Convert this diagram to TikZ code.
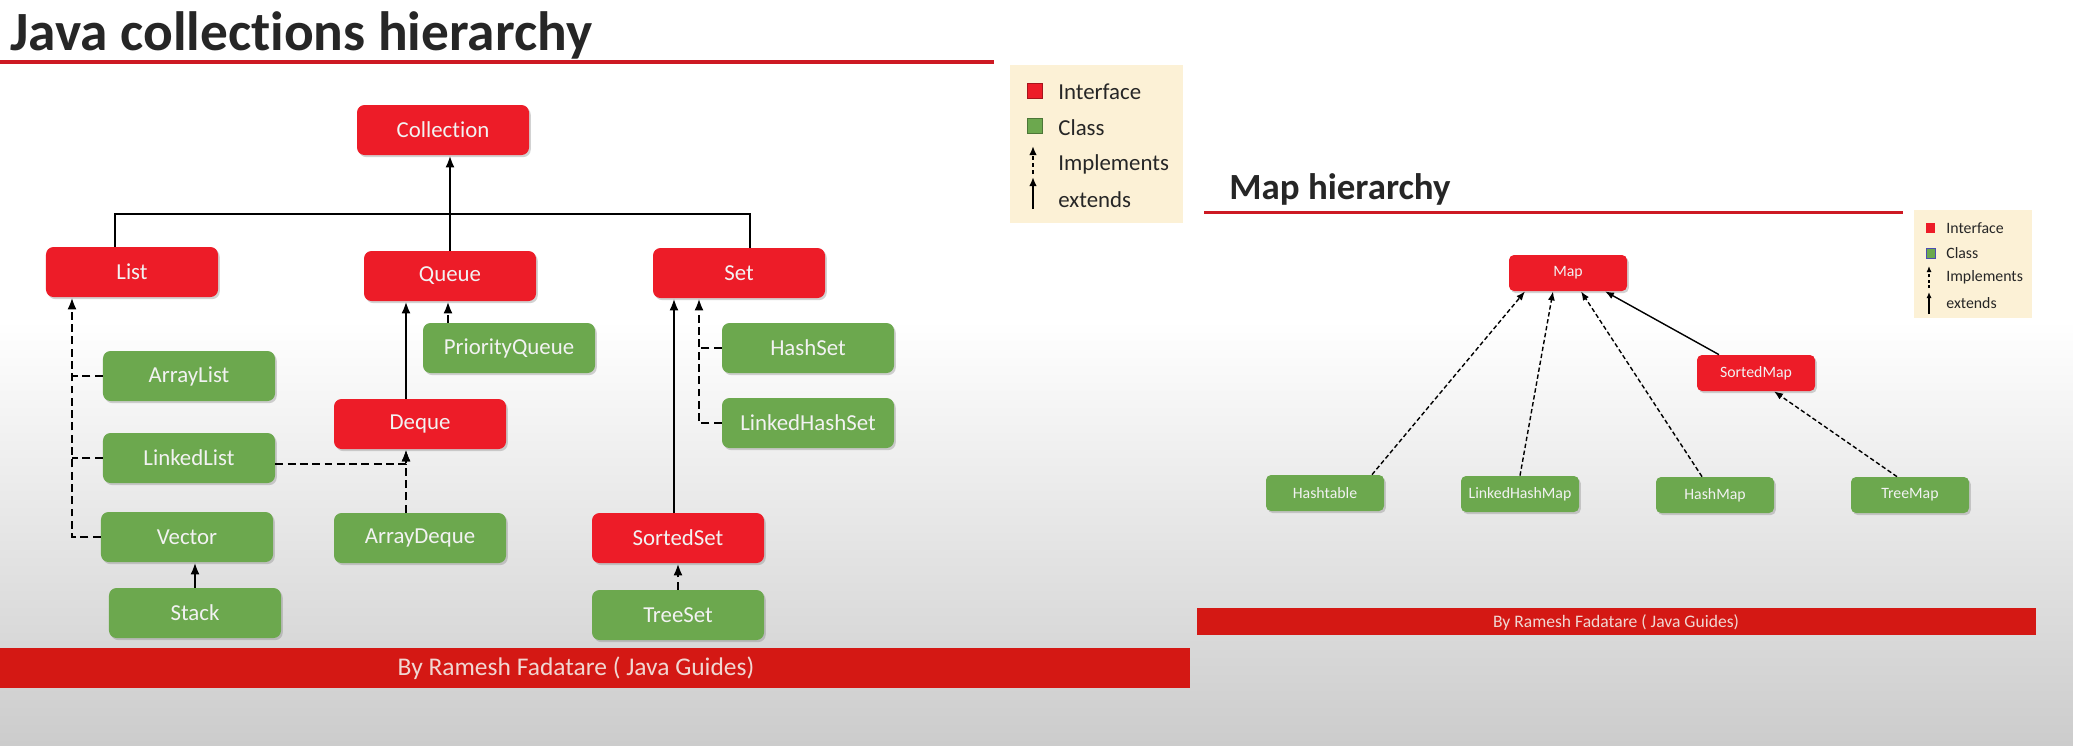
\documentclass[tikz,border=0pt]{standalone}
\usepackage{fontspec}
\setmainfont{Carlito}[Ligatures=NoCommon]
\usetikzlibrary{arrows.meta,positioning,calc,shadows}

\definecolor{ifacered}{RGB}{237,28,40}
\definecolor{clsgreen}{RGB}{108,168,78}
\definecolor{barred}{RGB}{212,24,20}
\definecolor{legendbg}{RGB}{252,241,214}
\definecolor{titlegray}{RGB}{38,38,38}
\definecolor{boxtext}{RGB}{242,242,242}
\definecolor{bytext}{RGB}{240,215,210}
\definecolor{bgbottom}{RGB}{204,204,204}
\definecolor{rulered}{RGB}{205,25,35}

\begin{document}
\begin{tikzpicture}[x=0.2mm,y=-0.2mm,
	box/.style={rounded corners=1.5mm, text=boxtext, inner sep=0pt,
		font=\fontsize{13}{15}\selectfont,
		drop shadow={shadow xshift=1pt,shadow yshift=-1.2pt,opacity=0.35}},
	iface/.style={box, fill=ifacered, minimum width=34.4mm, minimum height=10mm},
	cls/.style={box, fill=clsgreen, minimum width=34.4mm, minimum height=10mm},
	miniface/.style={iface, minimum width=23.6mm, minimum height=7.2mm,
		rounded corners=1mm, font=\fontsize{9}{11}\selectfont},
	mincls/.style={cls, minimum width=23.6mm, minimum height=7.2mm,
		rounded corners=1mm, font=\fontsize{9}{11}\selectfont},
	conn/.style={line width=1.4pt},
	ext/.style={conn, -{Latex[length=2.4mm,width=1.8mm]}},
	impl/.style={ext, dash pattern=on 4.5pt off 2.5pt},
	dsh/.style={conn, dash pattern=on 4.5pt off 2.5pt},
	thinext/.style={line width=0.8pt, -{Latex[length=1.8mm,width=1.4mm]}},
	thinimpl/.style={thinext, dash pattern=on 2.5pt off 1.5pt},
	lgdtext/.style={anchor=west, inner sep=0pt, text=titlegray},
	]
	\useasboundingbox (0,0) rectangle (2073,745);
	% Background
	\fill[white] (0,0) rectangle (2073,745);
	\shade[top color=white, bottom color=bgbottom] (0,320) rectangle (2073,745);
	
	% Collection hierarchy: title
	\node[anchor=base west, inner sep=0pt, text=titlegray,
	font=\fontsize{31.5}{36}\selectfont\bfseries] (colltitle) at (10,50) {Java collections hierarchy};
	\draw[rulered, line width=2pt] (0,62) -- (994,62);
	
	% Interfaces
	\node[iface] (coll) at (443,130) {Collection};
	\node[iface] (list) at (132,272) {List};
	\node[iface] (queue) at (450,276) {Queue};
	\node[iface] (set) at (739,273) {Set};
	\node[iface] (deque) at (420,424) {Deque};
	\node[iface] (sset) at (678,538) {SortedSet};
	
	% Classes
	\node[cls] (alist) at (189,376) {ArrayList};
	\node[cls] (llist) at (189,458) {LinkedList};
	\node[cls] (vector) at (187,537) {Vector};
	\node[cls] (stack) at (195,613) {Stack};
	\node[cls] (pq) at (509,348) {PriorityQueue};
	\node[cls] (adeque) at (420,538) {ArrayDeque};
	\node[cls] (hset) at (808,348) {HashSet};
	\node[cls] (lhset) at (808,423) {LinkedHashSet};
	\node[cls] (tset) at (678,615) {TreeSet};
	
	% Links to Collection
	\coordinate (hub) at (451,214);
	\draw[conn] ([xshift=-3.4mm]list.north) |- (hub) -| ([xshift=2.2mm]set.north);
	\draw[ext] (queue.north) -- (queue.north |- coll.south);
	
	% List branch
	\coordinate (lbot) at ([xshift=-12mm]list.south);
	\draw[impl] (vector.west) -| (lbot);
	\draw[dsh] (alist.west) -- (alist.west -| lbot);
	\draw[dsh] (llist.west) -- (llist.west -| lbot);
	\draw[ext] (stack.north) -- (stack.north |- vector.south);
	
	% Queue branch
	\draw[ext] ([xshift=-2.8mm]deque.north) -- ([xshift=-2.8mm]deque.north |- queue.south);
	\draw[impl] ([xshift=-12.2mm]pq.north) -- ([xshift=-12.2mm]pq.north |- queue.south);
	\draw[impl] ([xshift=-2.8mm]adeque.north) -- ([xshift=-2.8mm]deque.south);
	\draw[impl] ([yshift=-1.2mm]llist.east) -| ([xshift=-2.8mm]deque.south);
	
	% Set branch
	\coordinate (sbot) at ([xshift=-8mm]set.south);
	\draw[ext] ([xshift=-0.8mm]sset.north) -- ([xshift=-0.8mm]sset.north |- set.south);
	\draw[impl] (lhset.west) -| (sbot);
	\draw[dsh] (hset.west) -- (hset.west -| sbot);
	\draw[impl] (tset.north) -- (sset.south);
	
	% Legend
	\fill[legendbg] (1010,65) rectangle (1183,223);
	\fill[ifacered, draw=ifacered!70!black, line width=0.4pt] (1027,83) rectangle (1042,98);
	\fill[clsgreen, draw=clsgreen!70!black, line width=0.4pt] (1027,118) rectangle (1042,133);
	\draw[line width=1.1pt, dash pattern=on 2.5pt off 1.5pt, -{Latex[length=1.8mm,width=1.5mm]}] (1033,174) -- (1033,146);
	\draw[line width=1.1pt, -{Latex[length=1.8mm,width=1.5mm]}] (1033,209) -- (1033,177);
	\node[lgdtext, font=\fontsize{13}{15}\selectfont] (lgdiface) at (1058,92) {Interface};
	\node[lgdtext, font=\fontsize{13}{15}\selectfont] (lgdcls) at (1058,128) {Class};
	\node[lgdtext, font=\fontsize{13}{15}\selectfont] (lgdimpl) at (1058,164) {Implements};
	\node[lgdtext, font=\fontsize{13}{15}\selectfont] (lgdext) at (1058,200) {extends};
	
	% Footer
	\fill[barred] (0,648) rectangle (1190,688);
	\node[text=bytext, font=\fontsize{14.5}{17}\selectfont] (byleft) at (576,668) {By Ramesh Fadatare ( Java Guides)};
	
	% Map hierarchy: title
	\node[anchor=base west, inner sep=0pt, text=titlegray,
	font=\fontsize{21}{25}\selectfont\bfseries] (maptitle) at (1229,199) {Map hierarchy};
	\draw[rulered, line width=1.7pt] (1204,212) -- (1903,212);
	
	% Map nodes
	\node[miniface] (map) at (1568,273) {Map};
	\node[miniface] (smap) at (1756,373) {SortedMap};
	\node[mincls] (htable) at (1325,493) {Hashtable};
	\node[mincls] (lhmap) at (1520,494) {LinkedHashMap};
	\node[mincls] (hmap) at (1715,495) {HashMap};
	\node[mincls] (tmap) at (1910,495) {TreeMap};
	
	% Map links
	\draw[thinimpl] ([xshift=9.4mm]htable.north) -- ([xshift=-8.6mm]map.south);
	\draw[thinimpl] (lhmap.north) -- ([xshift=-3mm]map.south);
	\draw[thinimpl] ([xshift=-2.6mm]hmap.north) -- ([xshift=2.6mm]map.south);
	\draw[thinext] ([xshift=-7.4mm]smap.north) -- ([xshift=7.4mm]map.south);
	\draw[thinimpl] ([xshift=-2.6mm]tmap.north) -- ([xshift=3.6mm]smap.south);
	
	% Small legend
	\fill[legendbg] (1914,210) rectangle (2032,318);
	\fill[ifacered] (1926,223) rectangle (1935,233);
	\fill[clsgreen, draw=blue!40!gray, line width=0.3pt] (1926,248) rectangle (1935,258);
	\draw[line width=0.7pt, dash pattern=on 1.8pt off 1.2pt, -{Latex[length=1.2mm,width=1mm]}] (1929,288) -- (1929,266);
	\draw[line width=0.7pt, -{Latex[length=1.2mm,width=1mm]}] (1929,314) -- (1929,292);
	\node[lgdtext, font=\fontsize{9}{11}\selectfont] (mlgdiface) at (1946,228) {Interface};
	\node[lgdtext, font=\fontsize{9}{11}\selectfont] (mlgdcls) at (1946,253) {Class};
	\node[lgdtext, font=\fontsize{9}{11}\selectfont] (mlgdimpl) at (1946,277) {Implements};
	\node[lgdtext, font=\fontsize{9}{11}\selectfont] (mlgdext) at (1946,303) {extends};
	
	% Map footer
	\fill[barred] (1197,608) rectangle (2036,635);
	\node[text=bytext, font=\fontsize{10}{12}\selectfont] (byright) at (1616,622) {By Ramesh Fadatare ( Java Guides)};
\end{tikzpicture}
\end{document}
